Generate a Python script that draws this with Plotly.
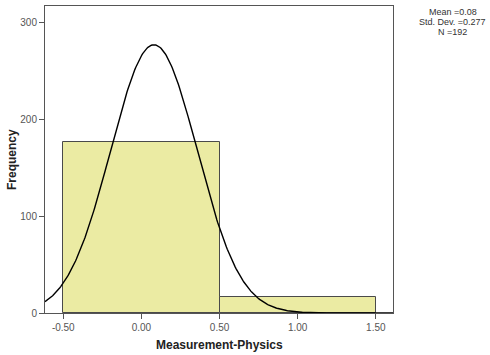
import numpy as np
import plotly.graph_objects as go

bin_centers = [0.0, 1.0]
bin_counts = [176, 16]
bin_width = 1.0
mean_val = 0.08
sd_val = 0.277
n_val = 192
x_tick_vals = [-0.5, 0.0, 0.5, 1.0, 1.5]
x_tick_text = ["-0.50", "0.00", "0.50", "1.00", "1.50"]
y_tick_vals = [0, 100, 200, 300]
stat_lines = ["Mean =0.08", "Std. Dev. =0.277", "N =192"]

x_range = [-0.617, 1.61]
xs = np.linspace(x_range[0], x_range[1], 400)
ys = n_val * bin_width / (sd_val * np.sqrt(2 * np.pi)) * np.exp(-0.5 * ((xs - mean_val) / sd_val) ** 2)

L, R, T, B = 45, 97, 6, 42
W, H = 490, 355
pw, ph = W - L - R, H - T - B

def px_x(p):
    return (p - L) / pw

def px_y(p):
    return (H - B - p) / ph

fig = go.Figure()
fig.add_trace(go.Bar(x=bin_centers, y=bin_counts, width=[bin_width] * len(bin_centers),
                     marker=dict(color="rgb(235,235,163)", line=dict(color="#4a4a4a", width=1)),
                     showlegend=False))
fig.add_trace(go.Scatter(x=xs, y=ys, mode="lines", line=dict(color="black", width=1.4),
                         showlegend=False))

annotations = []
for i, line in enumerate(stat_lines):
    annotations.append(dict(x=px_x(453), y=px_y(12 + 10 * i), xref="paper", yref="paper",
                            showarrow=False, xanchor="center", yanchor="middle",
                            text=line, font=dict(size=9, color="#333")))
annotations += [
    dict(x=px_x(219), y=px_y(345), xref="paper", yref="paper", showarrow=False,
         xanchor="center", yanchor="middle",
         text="<b>Measurement-Physics</b>", font=dict(size=12, color="#222")),
    dict(x=px_x(12), y=px_y(160), xref="paper", yref="paper", showarrow=False,
         xanchor="center", yanchor="middle", textangle=-90,
         text="<b>Frequency</b>", font=dict(size=12, color="#222")),
]

font = dict(family="Arial, Liberation Sans, sans-serif", size=10, color="#555")
fig.update_layout(
    width=W, height=H,
    margin=dict(l=L, r=R, t=T, b=B),
    paper_bgcolor="white", plot_bgcolor="white",
    bargap=0,
    font=font,
    hovermode=False,
    xaxis=dict(range=x_range, tickvals=x_tick_vals, ticktext=x_tick_text, automargin=False,
               showgrid=False, zeroline=False, showline=True, mirror=True,
               linecolor="#555", linewidth=1, ticks="outside", ticklen=5, tickcolor="#555"),
    yaxis=dict(range=[0, 316.5], tickvals=y_tick_vals, automargin=False,
               showgrid=False, zeroline=False, showline=True, mirror=True,
               linecolor="#555", linewidth=1, ticks="outside", ticklen=5, tickcolor="#555"),
    annotations=annotations,
)
fig.write_html("out.html", config={"displayModeBar": False},
               post_script="document.body.style.margin='0';document.body.style.overflow='hidden';")
